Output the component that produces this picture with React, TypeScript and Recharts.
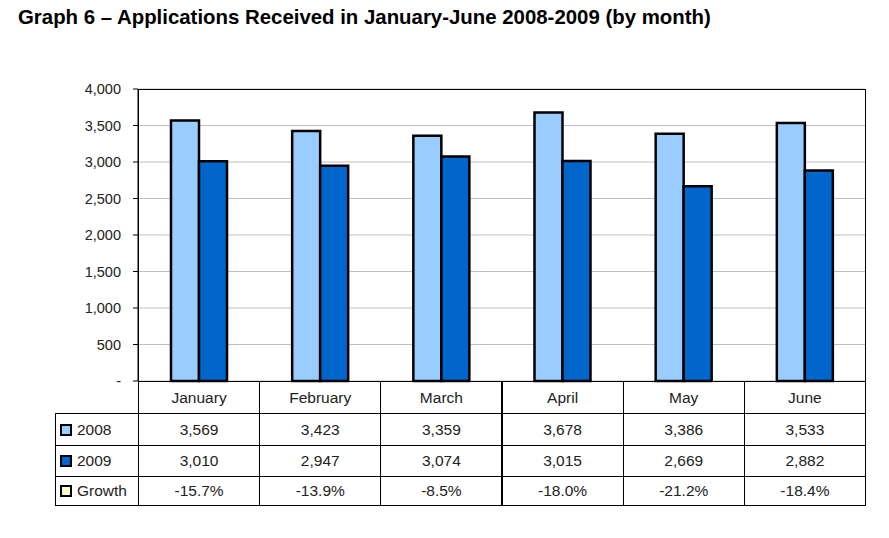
import { BarChart, Bar, XAxis, YAxis, CartesianGrid } from "recharts"

const months = ["January", "February", "March", "April", "May", "June"]
const apps2008 = [3569, 3423, 3359, 3678, 3386, 3533]
const apps2009 = [3010, 2947, 3074, 3015, 2669, 2882]
const growth = ["-15.7%", "-13.9%", "-8.5%", "-18.0%", "-21.2%", "-18.4%"]
const yTicks = [0, 500, 1000, 1500, 2000, 2500, 3000, 3500, 4000]

const data = months.map((m, i) => ({ month: m, y2008: apps2008[i], y2009: apps2009[i] }))

const FONT = '"Liberation Sans", Arial, sans-serif'
const PLOT_L = 138
const PLOT_R = 865
const PLOT_T = 89
const PLOT_B = 381
const COL_W = (PLOT_R - PLOT_L) / months.length

const rows = [
  { label: "2008", swatch: "#99ccff", values: apps2008.map((v) => v.toLocaleString("en-US")) },
  { label: "2009", swatch: "#0066cc", values: apps2009.map((v) => v.toLocaleString("en-US")) },
  { label: "Growth", swatch: "#ffffcc", values: growth },
]
const rowTops = [413, 445, 476, 505]

const cellBase: React.CSSProperties = {
  position: "absolute",
  boxSizing: "border-box",
  display: "flex",
  alignItems: "center",
  justifyContent: "center",
  fontSize: 15.5,
  color: "#222",
}

export default function App() {
  return (
    <div style={{ position: "absolute", left: 0, top: 0, width: 889, height: 538, background: "#fff", fontFamily: FONT }}>
      <div style={{ position: "absolute", left: 18, top: 6, fontSize: 20.4, fontWeight: "bold", color: "#000", whiteSpace: "nowrap" }}>
        Graph 6 – Applications Received in January-June 2008-2009 (by month)
      </div>
      <BarChart
        width={889}
        height={538}
        data={data}
        margin={{ top: PLOT_T, right: 889 - PLOT_R, bottom: 538 - PLOT_B, left: 0 }}
        barSize={28}
        barGap={0}
      >
        <CartesianGrid vertical={false} stroke="#c0c0c0" />
        <XAxis dataKey="month" hide />
        <YAxis
          width={PLOT_L}
          domain={[0, 4000]}
          ticks={yTicks}
          interval={0}
          tickSize={5}
          tickMargin={12}
          axisLine={{ stroke: "#000" }}
          tickLine={{ stroke: "#000" }}
          tick={{ fontSize: 14.5, fill: "#222", fontFamily: FONT }}
          tickFormatter={(v: number) => (v === 0 ? "-" : v.toLocaleString("en-US"))}
        />
        <Bar dataKey="y2008" fill="#99ccff" stroke="#000" strokeWidth={2.5} isAnimationActive={false} />
        <Bar dataKey="y2009" fill="#0066cc" stroke="#000" strokeWidth={2.5} isAnimationActive={false} />
      </BarChart>
      {/* plot frame */}
      <div
        style={{
          position: "absolute",
          left: PLOT_L,
          top: PLOT_T,
          width: PLOT_R - PLOT_L + 1,
          height: PLOT_B - PLOT_T + 1,
          boxSizing: "border-box",
          border: "1px solid #000",
          pointerEvents: "none",
        }}
      />
      {/* header row with month names */}
      {months.map((m, i) => (
        <div
          key={m}
          style={{
            ...cellBase,
            left: PLOT_L + i * COL_W,
            top: PLOT_B,
            width: COL_W + 1,
            height: rowTops[0] - PLOT_B + 1,
            border: "1px solid #000",
          }}
        >
          {m}
        </div>
      ))}
      {rows.map((r, ri) => (
        <div key={r.label}>
          <div
            style={{
              ...cellBase,
              justifyContent: "flex-start",
              left: 55,
              top: rowTops[ri],
              width: PLOT_L - 55 + 1,
              height: rowTops[ri + 1] - rowTops[ri] + 1,
              border: "1px solid #000",
              paddingLeft: 4,
            }}
          >
            <span
              style={{
                display: "inline-block",
                width: 8,
                height: 8,
                background: r.swatch,
                border: "2px solid #000",
                marginRight: 5,
              }}
            />
            {r.label}
          </div>
          {r.values.map((v, i) => (
            <div
              key={i}
              style={{
                ...cellBase,
                left: PLOT_L + i * COL_W,
                top: rowTops[ri],
                width: COL_W + 1,
                height: rowTops[ri + 1] - rowTops[ri] + 1,
                border: "1px solid #000",
              }}
            >
              {v}
            </div>
          ))}
        </div>
      ))}
    </div>
  )
}
